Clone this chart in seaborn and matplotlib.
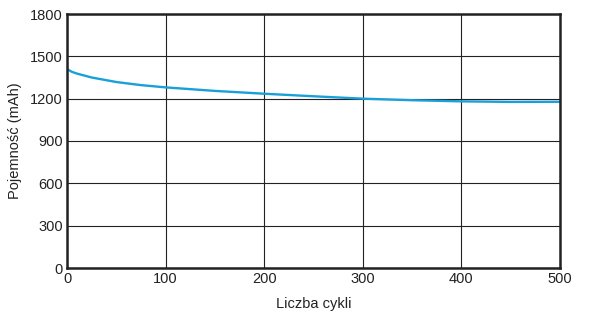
import matplotlib
matplotlib.use("Agg")
import matplotlib.pyplot as plt
import seaborn as sns
import pandas as pd

cycles = [0, 5, 10, 25, 50, 75, 100, 150, 200, 250, 300, 350, 400, 450, 500]
capacity = [1410, 1390, 1378, 1350, 1318, 1296, 1280, 1255, 1235, 1217, 1200, 1189, 1181, 1177, 1178]
x_ticks = [0, 100, 200, 300, 400, 500]
y_ticks = [0, 300, 600, 900, 1200, 1500, 1800]

sns.set_theme(style="white")
plt.rcParams['font.family'] = ['Liberation Sans', 'DejaVu Sans']

df = pd.DataFrame({"cycles": cycles, "capacity": capacity})

fig = plt.figure(figsize=(6, 3.18), dpi=100)
ax = fig.add_axes([67/600, 1-268/318, (560-67)/600, (268-14)/318])
ax.set_axisbelow(True)
ax.grid(True, color="#222222", linewidth=0.8)
sns.lineplot(data=df, x="cycles", y="capacity", ax=ax, color="#1aa0d8", linewidth=1.7)
ax.set_xlim(0, 500)
ax.set_ylim(0, 1800)
ax.set_xticks(x_ticks)
ax.set_yticks(y_ticks)
ax.tick_params(axis="both", labelsize=10.5, length=0, pad=3, colors="#222222")
for s in ax.spines.values():
    s.set_color("#222222")
    s.set_linewidth(1.8)
ax.set_xlabel("Liczba cykli", fontsize=10.5, color="#222222", labelpad=8)
ax.set_ylabel("Pojemność (mAh)", fontsize=10.5, color="#222222", labelpad=6)
fig.savefig("out.png", dpi=100)
